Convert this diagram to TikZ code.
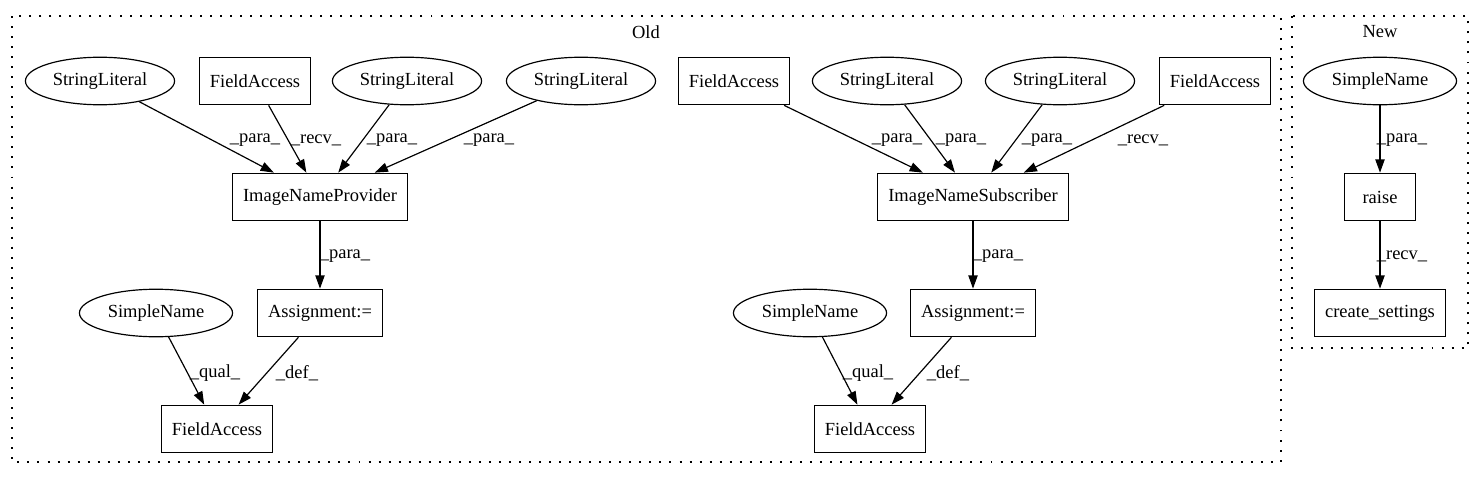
\documentclass[tikz,border=0pt]{standalone}
\usepackage{fontspec}
\setmainfont{Liberation Serif}
\usetikzlibrary{arrows.meta,shapes.geometric}
\begin{document}
\begin{tikzpicture}[x=0.7576pt,y=-0.7576pt,
  every node/.style={font=\fontsize{14}{16}\selectfont},
  box/.style={draw,rectangle,line width=0.9pt,minimum height=36pt,minimum width=54pt,inner xsep=8pt,inner ysep=0pt},
  oval/.style={draw,ellipse,line width=0.9pt,minimum height=36pt,minimum width=113pt,inner sep=0pt},
  lbl/.style={inner sep=0pt},
  arr/.style={-{Triangle[length=10pt,width=7pt]},line width=0.9pt},
  clus/.style={draw,line width=0.9pt,dash pattern=on 1.5pt off 6.1pt}
]
\useasboundingbox (0,0) rectangle (1484,480);
% clusters
\draw[clus] (12,16) rectangle (1281,462);
\node (oldlbl) at (646,32) {Old};
\draw[clus] (1292,16) rectangle (1468,348);
\node (newlbl) at (1380,32) {New};

% Old: top row
\node[oval] (sl1) at (100,81) {StringLiteral};
\node[box]  (fa1) at (255,81) {FieldAccess};
\node[oval] (sl2) at (407,81) {StringLiteral};
\node[oval] (sl3) at (581,81) {StringLiteral};
\node[box]  (fa2) at (734,81) {FieldAccess};
\node[oval] (sl4) at (887,81) {StringLiteral};
\node[oval] (sl5) at (1060,81) {StringLiteral};
\node[box]  (fa3) at (1215,81) {FieldAccess};

\node[box] (inp) at (320,197) {ImageNameProvider};
\node[box] (ins) at (973,197) {ImageNameSubscriber};

\node[box] (as1) at (320,313) {Assignment:=};
\node[oval,minimum width=116pt] (sn1) at (156,313) {SimpleName};
\node[box] (as2) at (973,313) {Assignment:=};
\node[oval,minimum width=116pt] (sn2) at (810,313) {SimpleName};

\node[box] (fo1) at (217,429) {FieldAccess};
\node[box] (fo2) at (870,429) {FieldAccess};

% New
\node[oval,minimum width=116pt] (sn3) at (1380,81) {SimpleName};
\node[box] (rs) at (1380,197) {raise};
\node[box] (cs) at (1380,313) {create\_settings};

% edges Old left
\draw[arr] (sl1) -- (inp);
\draw[arr] (fa1) -- (inp);
\draw[arr] (sl2) -- (inp);
\draw[arr] (sl3) -- (inp);
\draw[arr] (inp) -- (as1);
\draw[arr] (sn1) -- (fo1);
\draw[arr] (as1) -- (fo1);
% edges Old right
\draw[arr] (fa2) -- (ins);
\draw[arr] (sl4) -- (ins);
\draw[arr] (sl5) -- (ins);
\draw[arr] (fa3) -- (ins);
\draw[arr] (ins) -- (as2);
\draw[arr] (sn2) -- (fo2);
\draw[arr] (as2) -- (fo2);
% edges New
\draw[arr] (sn3) -- (rs);
\draw[arr] (rs) -- (cs);

% labels
\node[lbl] (l1) at (255,140) {\_para\_};
\node[lbl] (l2) at (316,140) {\_recv\_};
\node[lbl] (l3) at (392,140) {\_para\_};
\node[lbl] (l4) at (489,140) {\_para\_};
\node[lbl] (l5) at (345,256) {\_para\_};
\node[lbl] (l6) at (215,373) {\_qual\_};
\node[lbl] (l7) at (297,373) {\_def\_};

\node[lbl] (r1) at (897,140) {\_para\_};
\node[lbl] (r2) at (961,140) {\_para\_};
\node[lbl] (r3) at (1047,140) {\_para\_};
\node[lbl] (r4) at (1143,140) {\_recv\_};
\node[lbl] (r5) at (998,256) {\_para\_};
\node[lbl] (r6) at (868,373) {\_qual\_};
\node[lbl] (r7) at (948,373) {\_def\_};

\node[lbl] (n1) at (1402,140) {\_para\_};
\node[lbl] (n2) at (1402,256) {\_recv\_};
\end{tikzpicture}
\end{document}
